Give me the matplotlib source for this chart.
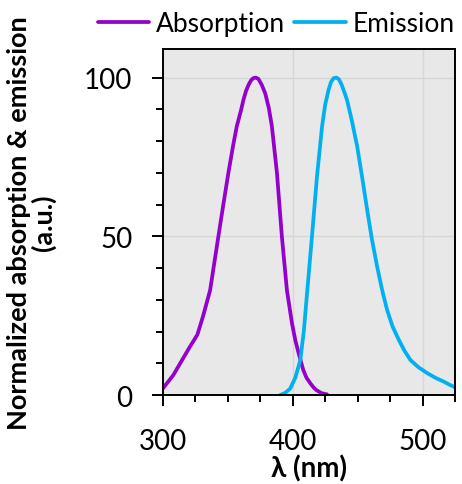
import matplotlib
matplotlib.use("Agg")
import matplotlib.pyplot as plt
from matplotlib.ticker import MultipleLocator

plt.rcParams['font.family'] = ['Lato', 'DejaVu Sans']

abs_x = [300, 304, 308, 314, 320, 326.5, 331, 336.3, 342.7, 346.5, 350.4, 354, 356.9, 360, 362, 364, 366, 368, 369.5, 371.5, 373.5, 376, 378.8, 381.5, 383.9, 387.8, 391.6, 395.5, 399.4, 402, 404.5, 408, 410.5, 413.5, 416, 418, 422, 426.4]
abs_y = [2.1, 4.2, 6.3, 10.5, 14.7, 19, 25, 33, 50, 60, 70, 78.5, 84.7, 89.5, 93, 95.8, 97.8, 99.2, 99.8, 100, 99.6, 97.8, 95, 90.5, 84.7, 70, 50, 33, 22.6, 17.2, 13.2, 8, 5.5, 3.7, 2.4, 1.6, 0.6, 0.2]

em_x = [390.3, 394, 398, 402, 405.8, 408.5, 411, 414.8, 418.7, 422.6, 425, 427.7, 429.5, 431.5, 433.6, 435.5, 437.5, 439.5, 441.8, 445.5, 449.6, 453.5, 457.3, 461, 465, 468.8, 472.7, 477, 481.7, 486, 490.7, 497, 503.6, 510, 516.4, 521, 526.8]
em_y = [0, 0.6, 2, 5.5, 11, 20, 32, 50, 69, 84.7, 91.5, 96.3, 98.6, 99.8, 100, 99.5, 97.9, 95.7, 93, 86.5, 78.4, 68.5, 58.4, 49, 40.5, 33.2, 26.8, 21.5, 17.4, 14, 11, 8.7, 6.9, 5.4, 4.2, 3.2, 2.1]

x_major = [300, 400, 500]
y_major = [0, 50, 100]

fig = plt.figure(figsize=(4.62, 4.85), dpi=100)
ax = fig.add_axes([0.3528, 0.1835, 0.632, 0.7134])
ax.set_facecolor('#e8e8e8')

ax.plot(abs_x, abs_y, color='#9400cc', lw=2.7, label='Absorption', solid_capstyle='round', solid_joinstyle='round')
ax.plot(em_x, em_y, color='#00b0f0', lw=2.7, label='Emission', solid_capstyle='round', solid_joinstyle='round')

ax.set_xlim(300, 525)
ax.set_ylim(0, 109)
ax.set_xticks(x_major)
ax.set_yticks(y_major)
ax.xaxis.set_minor_locator(MultipleLocator(25))
ax.yaxis.set_minor_locator(MultipleLocator(10))
ax.grid(True, which='major', color='#d6d6d6', lw=1.0)
ax.set_axisbelow(True)
ax.tick_params(which='major', direction='out', length=8, width=1.4, labelsize=20)
ax.tick_params(axis='x', which='major', pad=16)
ax.tick_params(axis='y', which='major', pad=14)
ax.tick_params(which='minor', direction='out', length=5, width=1.4)
for s in ax.spines.values():
    s.set_linewidth(1.4)
    s.set_color('black')

ax.set_xlabel('λ (nm)', fontsize=20, fontweight='bold', va='center')
ax.xaxis.set_label_coords(0.5, -0.211)
ax.set_ylabel('Normalized absorption & emission\n(a.u.)', fontsize=19.5, fontweight='bold', labelpad=20, linespacing=1.0)

fig.legend(loc='upper center', bbox_to_anchor=(0.598, 1.025), ncol=2, frameon=False,
           fontsize=19, handlelength=1.95, columnspacing=0.35, handletextpad=0.25,
           handleheight=0.5)

fig.savefig('out.png', dpi=100)
